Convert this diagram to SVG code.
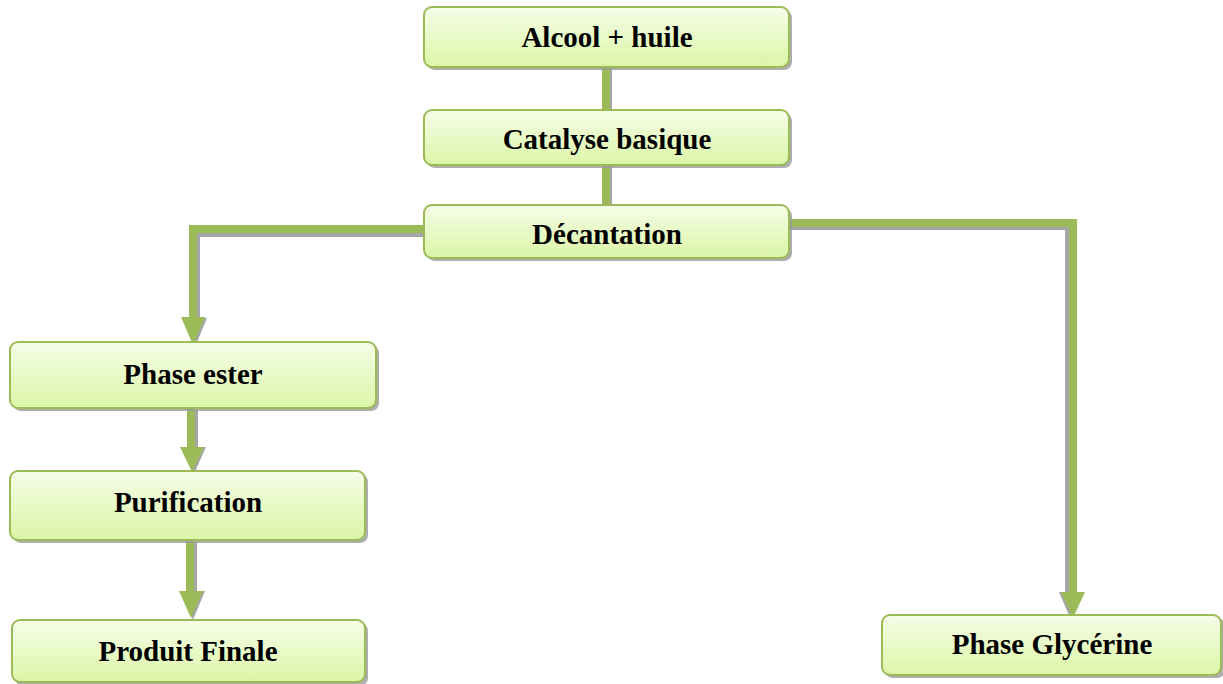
<svg xmlns="http://www.w3.org/2000/svg" width="1223" height="684" viewBox="0 0 1223 684">
<defs>
<linearGradient id="g" x1="0" y1="0" x2="0" y2="1">
<stop offset="0" stop-color="#f5fde8"/>
<stop offset="1" stop-color="#dbf6a6"/>
</linearGradient>
<style>
.box{fill:url(#g);stroke:#9bbb59;stroke-width:2}
.sh{fill:#9a9a9a;opacity:0.8}
.t{font-family:"Liberation Serif","Times New Roman",serif;font-weight:bold;font-size:29px;fill:#000;text-anchor:middle}
.c{stroke:#9bbb59;stroke-width:8;fill:none}
.cs{stroke:#a6a6a6;stroke-width:8;fill:none}
.ah{fill:#9bbb59}
.ahs{fill:#a6a6a6}
</style>
</defs>
<rect width="1223" height="684" fill="#fff"/>
<g id="connectors">
<path class="cs" d="M608 68V111M608 166V206"/>
<path class="cs" d="M424 233H196V318"/>
<path class="cs" d="M1069 226V593M790 226H1069"/>
<path class="cs" d="M194 410V448M193 542V592"/>
<polygon class="ahs" points="183,318 207,318 195,347"/>
<polygon class="ahs" points="182,447 206,447 194,474"/>
<polygon class="ahs" points="181,591 205,591 193,620"/>
<polygon class="ahs" points="1059,592 1083,592 1071,620"/>
<path class="c" d="M606 67V110M606 165V205"/>
<path class="c" d="M424 229H193V318"/>
<path class="c" d="M790 223H1073V593"/>
<path class="c" d="M191 408V448M190 540V592"/>
<polygon class="ah" points="181,317 205,317 193,345"/>
<polygon class="ah" points="180,447 204,447 192,472"/>
<polygon class="ah" points="179,591 203,591 191,618"/>
<polygon class="ah" points="1061,592 1085,592 1073,618"/>
</g>
<g id="n1"><rect class="sh" x="427" y="10" width="365" height="60" rx="8"/><rect class="box" x="424" y="7" width="365" height="60" rx="8"/><text class="t" x="607" y="47">Alcool + huile</text></g>
<g id="n2"><rect class="sh" x="427" y="113" width="365" height="55" rx="8"/><rect class="box" x="424" y="110" width="365" height="55" rx="8"/><text class="t" x="607" y="149">Catalyse basique</text></g>
<g id="n3"><rect class="sh" x="427" y="208" width="365" height="53" rx="8"/><rect class="box" x="424" y="205" width="365" height="53" rx="8"/><text class="t" x="607" y="244">Décantation</text></g>
<g id="n4"><rect class="sh" x="13" y="345" width="366" height="66" rx="8"/><rect class="box" x="10" y="342" width="366" height="66" rx="8"/><text class="t" x="193" y="384">Phase ester</text></g>
<g id="n5"><rect class="sh" x="13" y="474" width="355" height="69" rx="8"/><rect class="box" x="10" y="471" width="355" height="69" rx="8"/><text class="t" x="188" y="512">Purification</text></g>
<g id="n6"><rect class="sh" x="15" y="623" width="353" height="63" rx="8"/><rect class="box" x="12" y="620" width="353" height="62" rx="8"/><text class="t" x="188" y="661">Produit Finale</text></g>
<g id="n7"><rect class="sh" x="885" y="618" width="340" height="60" rx="8"/><rect class="box" x="882" y="615" width="339" height="60" rx="8"/><text class="t" x="1052" y="654">Phase Glycérine</text></g>
</svg>
